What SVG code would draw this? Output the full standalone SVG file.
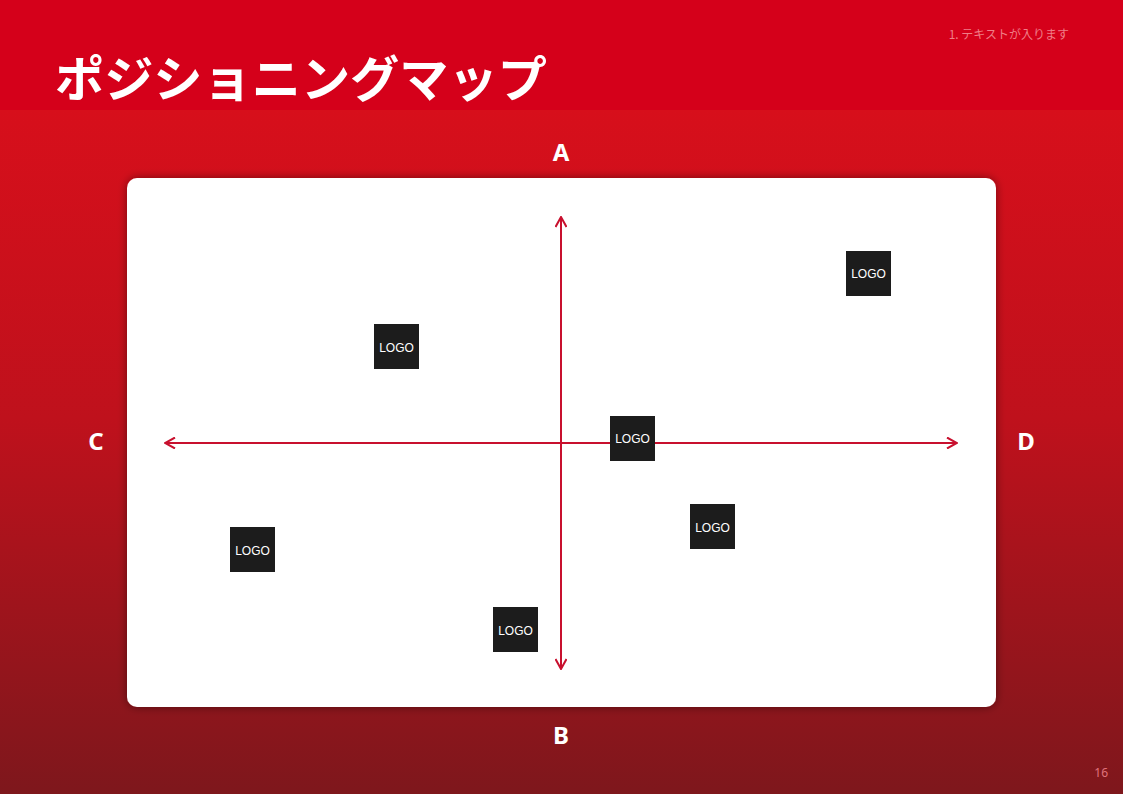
<svg xmlns="http://www.w3.org/2000/svg" width="1123" height="794" viewBox="0 0 1123 794">
<defs>
<linearGradient id="bg" x1="0" y1="0" x2="0" y2="1">
<stop offset="0" stop-color="#d70f1b"/>
<stop offset="0.45" stop-color="#bf111c"/>
<stop offset="1" stop-color="#7e171c"/>
</linearGradient>
<filter id="sh" x="-10%" y="-10%" width="120%" height="120%">
<feGaussianBlur in="SourceAlpha" stdDeviation="5"/>
<feOffset dx="0" dy="0" result="b"/>
<feComponentTransfer><feFuncA type="linear" slope="0.45"/></feComponentTransfer>
<feMerge><feMergeNode/><feMergeNode in="SourceGraphic"/></feMerge>
</filter>
<marker id="ah" viewBox="0 0 12 12" refX="11" refY="6" markerWidth="12" markerHeight="12" markerUnits="userSpaceOnUse" orient="auto-start-reverse">
<path d="M1,0.5 L11,6 L1,11.5" fill="none" stroke="#c8102e" stroke-width="2"/>
</marker>
<style>
.axis{stroke:#c8102e;stroke-width:2;fill:none}
.logo rect{fill:#1c1c1c}
.logo text{fill:#ffffff;font-family:"Liberation Sans",Arial,sans-serif;font-size:12px;text-anchor:middle}
.lbl{fill:#ffffff;font-family:"Noto Sans","DejaVu Sans",sans-serif;font-weight:bold;font-size:24px;text-anchor:middle}
</style>
</defs>
<rect x="0" y="110" width="1123" height="684" fill="url(#bg)"/>
<rect x="0" y="0" width="1123" height="110" fill="#d5001a"/>
<text x="55" y="97" fill="#ffffff" font-family="'Noto Sans CJK JP',sans-serif" font-weight="bold" font-size="49.2">ポジショニングマップ</text>
<text x="1069" y="39" fill="#f07d87" font-family="'Noto Sans CJK JP',sans-serif" font-size="12" text-anchor="end">1. テキストが入ります</text>
<text x="1108" y="777" fill="#e0737b" font-family="'Noto Sans','DejaVu Sans',sans-serif" font-size="12" text-anchor="end">16</text>
<rect id="card" x="127" y="178" width="869" height="529" rx="10" fill="#ffffff" filter="url(#sh)"/>
<g id="connectors">
<line class="axis" x1="561" y1="669" x2="561" y2="217" marker-start="url(#ah)" marker-end="url(#ah)"/>
<line class="axis" x1="165" y1="443" x2="957" y2="443" marker-start="url(#ah)" marker-end="url(#ah)"/>
</g>
<g id="label-A"><text class="lbl" x="561" y="161">A</text></g>
<g id="label-B"><text class="lbl" x="561" y="744">B</text></g>
<g id="label-C"><text class="lbl" x="96" y="450">C</text></g>
<g id="label-D"><text class="lbl" x="1026" y="450">D</text></g>
<g id="logo1" class="logo"><rect x="846" y="251" width="45" height="45"/><text x="868.5" y="278">LOGO</text></g>
<g id="logo2" class="logo"><rect x="374" y="324" width="45" height="45"/><text x="396.5" y="352">LOGO</text></g>
<g id="logo3" class="logo"><rect x="610" y="416" width="45" height="45"/><text x="632.5" y="443">LOGO</text></g>
<g id="logo4" class="logo"><rect x="690" y="504" width="45" height="45"/><text x="712.5" y="532">LOGO</text></g>
<g id="logo5" class="logo"><rect x="230" y="527" width="45" height="45"/><text x="252.5" y="555">LOGO</text></g>
<g id="logo6" class="logo"><rect x="493" y="607" width="45" height="45"/><text x="515.5" y="635">LOGO</text></g>
</svg>
